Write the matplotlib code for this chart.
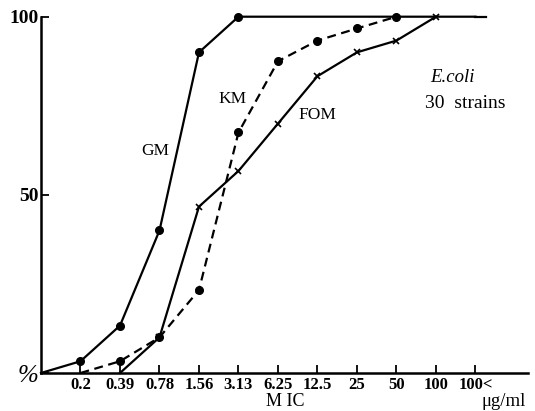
import matplotlib
matplotlib.use("Agg")
import matplotlib.pyplot as plt

plt.rcParams['font.family'] = ['Liberation Serif', 'DejaVu Serif']

mic_labels = ["0.2", "0.39", "0.78", "1.56", "3.13", "6.25", "12.5", "25", "50", "100", "100<"]
x_pos = list(range(1, len(mic_labels) + 1))

# cumulative % of strains (30 strains)
gm_x = [0, 1, 2, 3, 4, 5, 6, 7, 8, 9, 10, 11]
gm_y = [0, 3.3, 13.3, 40.0, 90.0, 100, 100, 100, 100, 100, 100, 100]

km_x = [1, 2, 3, 4, 5, 6, 7, 8, 9]
km_y = [0, 3.3, 10.0, 23.3, 67.5, 87.5, 93.3, 96.7, 100]

fom_x = [2, 3, 4, 5, 6, 7, 8, 9, 10]
fom_y = [0, 10.0, 46.7, 56.7, 70.0, 83.3, 90.0, 93.3, 100]

fig = plt.figure(figsize=(5.35, 4.11), dpi=100)
ax = fig.add_axes([41/535, 1 - 373/411, (528 - 41)/535, (373 - 16.7)/411])

lw = 1.6
ax.plot(gm_x, gm_y, color='black', lw=lw, clip_on=False, zorder=3)
ax.plot([gm_x[-1], gm_x[-1] + 0.27], [gm_y[-1], gm_y[-1]], color='black', lw=lw, clip_on=False)
ax.plot(gm_x[1:6], gm_y[1:6], 'o', color='black', ms=5.5, clip_on=False, zorder=4)

ax.plot(km_x, km_y, color='black', lw=lw, ls=(0, (4, 2.5)), clip_on=False, zorder=3)
ax.plot(km_x[1:], km_y[1:], 'o', color='black', ms=5.5, clip_on=False, zorder=4)

ax.plot(fom_x, fom_y, color='black', lw=lw, clip_on=False, zorder=3)
ax.plot(fom_x[1:], fom_y[1:], 'x', color='black', ms=5, mew=1.2, clip_on=False, zorder=4)

ax.set_xlim(0, 12.33)
ax.set_ylim(0, 100)

for s in ['top', 'right']:
    ax.spines[s].set_visible(False)
for s in ['left', 'bottom']:
    ax.spines[s].set_linewidth(1.8)

ax.set_xticks(x_pos)
ax.set_xticklabels(mic_labels, fontsize=12, fontweight='bold')
ax.tick_params(axis='x', direction='in', length=6, width=1.3, pad=3)
ax.set_yticks([0, 50, 100])
ax.set_yticklabels(['%', '50', '100'], fontsize=14, fontweight='bold')
ax.tick_params(axis='y', direction='in', length=6, width=1.3, pad=2)
ax.get_yticklabels()[0].set_fontstyle('italic')
ax.get_yticklabels()[0].set_fontweight('normal')
ax.get_yticklabels()[0].set_fontsize(18)

fig.text(285/535, 1 - 401/411, "M IC", ha='center', va='center', fontsize=13)
fig.text(504/535, 1 - 401/411, "μg/ml", ha='center', va='center', fontsize=13.5)

fig.text(155/535, 1 - 151/411, "GM", ha='center', va='center', fontsize=12.5)
fig.text(233/535, 1 - 99/411, "KM", ha='center', va='center', fontsize=12.5)
fig.text(317/535, 1 - 115/411, "FOM", ha='center', va='center', fontsize=12.5)
fig.text(452/535, 1 - 77/411, "E.coli", ha='center', va='center', fontsize=13.5, fontstyle='italic')
fig.text(465/535, 1 - 103/411, "30  strains", ha='center', va='center', fontsize=14)

fig.savefig("out.png", dpi=100)
